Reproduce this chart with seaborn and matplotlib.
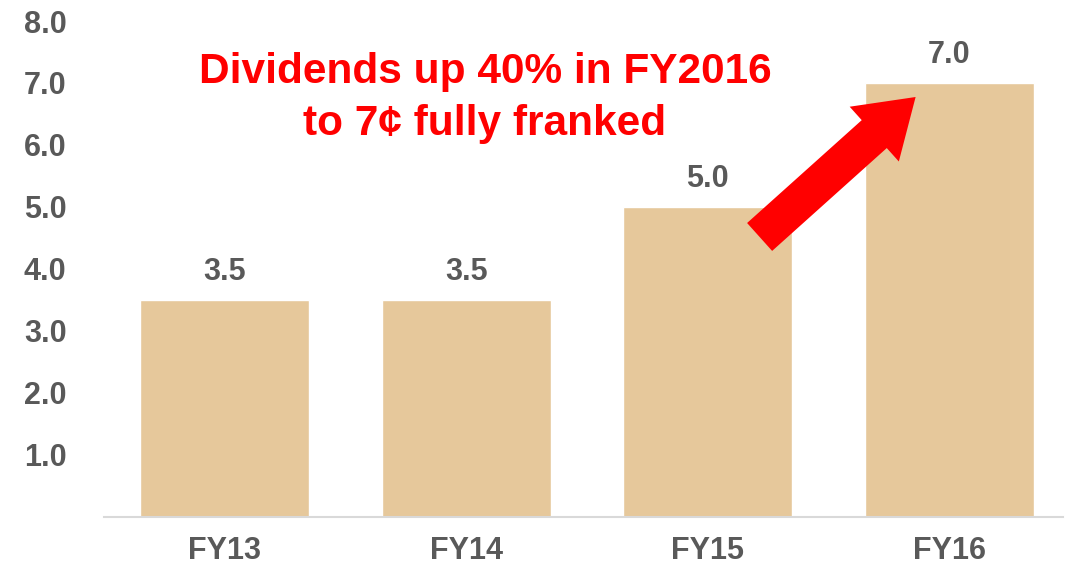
import matplotlib
matplotlib.use('Agg')
import matplotlib.pyplot as plt
import seaborn as sns
import pandas as pd

# data
years = ['FY13', 'FY14', 'FY15', 'FY16']
dividends = [3.5, 3.5, 5.0, 7.0]
ytick_vals = [1, 2, 3, 4, 5, 6, 7, 8]
note = 'Dividends up 40% in FY2016\nto 7\u00a2 fully franked'

bar_col = '#E6C89B'
grey = '#595959'

sns.set_style('white')
plt.rcParams['font.family'] = ['Liberation Sans', 'DejaVu Sans']

df = pd.DataFrame({'year': years, 'div': dividends})

fig = plt.figure(figsize=(10.68, 5.68), dpi=100)
ax = fig.add_axes([0.0974, 0.09, 0.8976, 0.873])

sns.barplot(data=df, x='year', y='div', color=bar_col, saturation=1, width=0.7, ax=ax)
ax.bar_label(ax.containers[0], fmt='%.1f', padding=9, fontsize=22, fontweight='bold', color=grey)

ax.set_ylim(0, 8)
ax.set_xlim(-0.5, 3.47)
ax.set_yticks(ytick_vals)
ax.set_yticklabels(['%.1f' % v for v in ytick_vals])
ax.set_xlabel('')
ax.set_ylabel('')
ax.tick_params(axis='y', length=0, pad=27, labelsize=22, labelcolor=grey)
ax.tick_params(axis='x', length=0, pad=14, labelsize=22, labelcolor=grey)
for lab in ax.get_xticklabels() + ax.get_yticklabels():
    lab.set_fontweight('bold')

for s in ['top', 'right', 'left']:
    ax.spines[s].set_visible(False)
ax.spines['bottom'].set_color('#D9D9D9')
ax.spines['bottom'].set_linewidth(1.5)

# headline + arrow
ax.text(1.077, 6.76, note, ha='center', va='center', fontsize=30.5, fontweight='bold',
        color='red', linespacing=1.38)
ax.annotate('', xy=(2.861, 6.774), xytext=(2.215, 4.516),
            arrowprops=dict(arrowstyle='simple,head_length=4.0,head_width=5.3,tail_width=2.7',
                            fc='red', ec='none', mutation_scale=10, shrinkA=0, shrinkB=0))

plt.savefig('out.png', dpi=100)
